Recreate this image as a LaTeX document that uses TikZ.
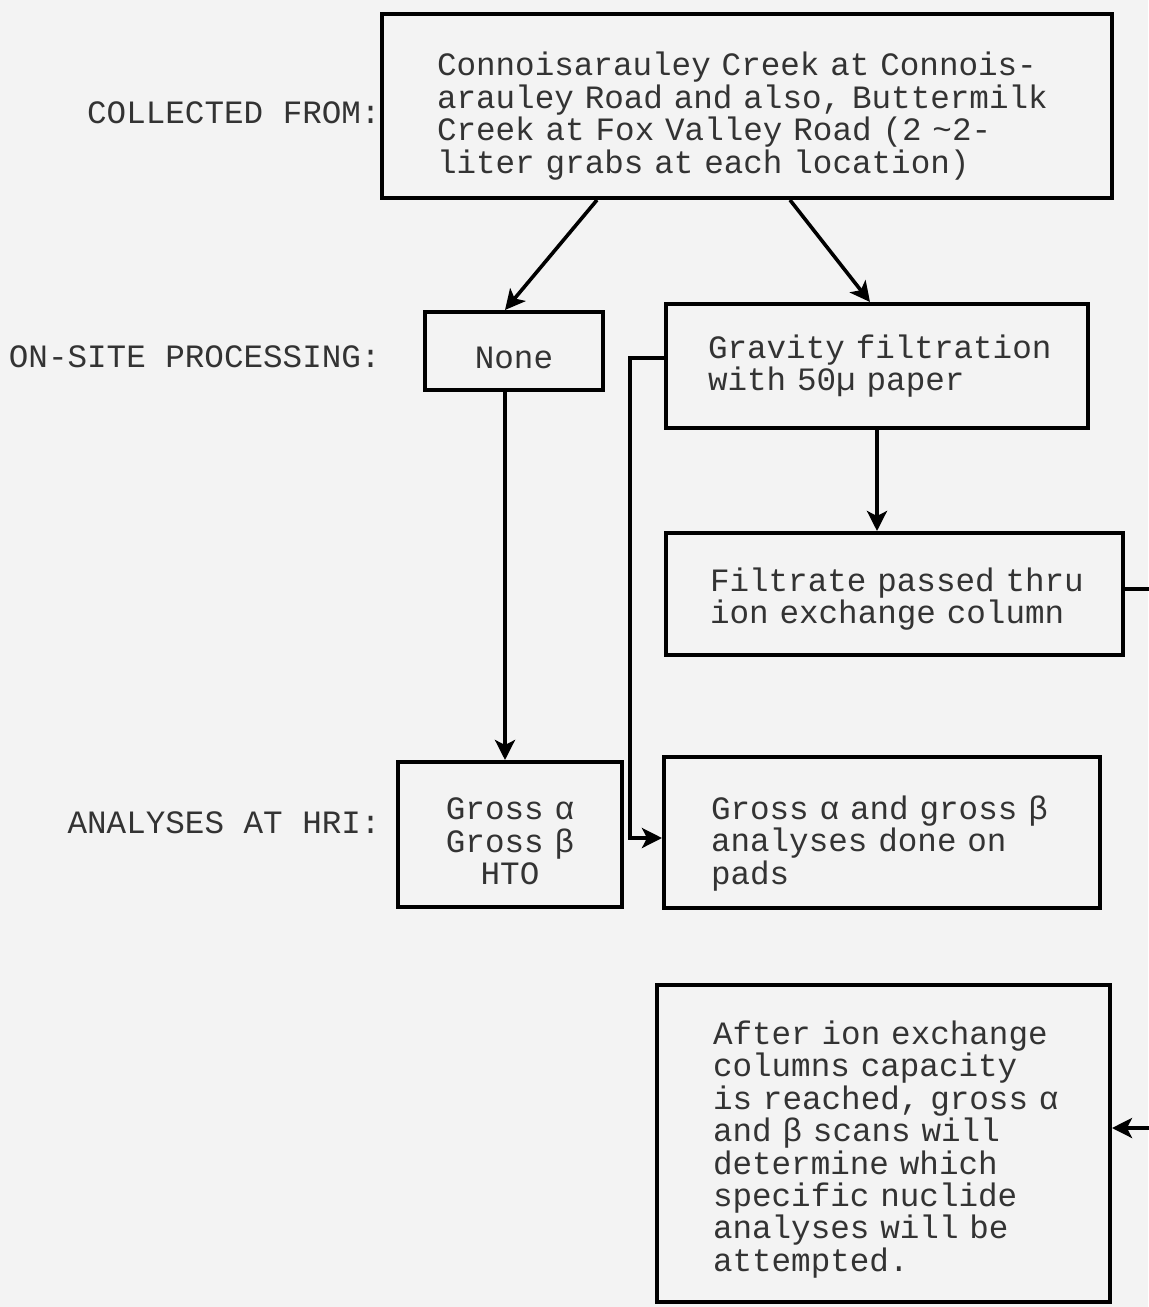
\documentclass[tikz,border=0pt]{standalone}
\usepackage{fontspec}
\setmonofont{Liberation Mono}
\usetikzlibrary{arrows.meta}
\usetikzlibrary{calc}
\tikzset{>={Stealth[length=10pt, width=10pt, inset=2.5pt]}}
\definecolor{paperGray}{HTML}{F3F3F3}
\definecolor{inkGray}{HTML}{333333}
\newcommand{\boxline}[1]{\makebox[\linewidth][l]{#1}}

\begin{document}
\begin{tikzpicture}[x=0.5pt, y=-0.5pt,
    every node/.style={font=\ttfamily\fontsize{16.3}{16.2}\selectfont, text=inkGray},
    stepbox/.style={draw=black, line width=2pt, inner ysep=0pt},
    textdown/.style={execute at begin node={\rule{0pt}{\dimexpr\fontcharht\font`l+#1\relax}}},
    sidelabel/.style={anchor=east, inner sep=0pt},
    flow/.style={->, line width=1.8pt, black}]
    \useasboundingbox (0,0) rectangle (1148,1307);
    \fill[paperGray] (0,0) rectangle (1148,1307);

    % boxes
    \node[stepbox, text width=310pt, inner xsep=27.5pt, minimum height=92pt, align=left, textdown=10pt] (src) at (747,106)
      {\boxline{Connoisarauley Creek at Connois-}\\
       \boxline{arauley Road and also, Buttermilk}\\
       \boxline{Creek at Fox Valley Road (2 \textasciitilde2-}\\
       \boxline{liter grabs at each location)}};
    \node[stepbox, text width=89pt, inner xsep=0pt, minimum height=39pt, align=center, textdown=6pt] (none) at (514,351) {None};
    \node[stepbox, text width=169pt, inner xsep=21pt, minimum height=62pt, align=left] (grav) at (877,366)
      {\boxline{Gravity filtration}\\
       \boxline{with 50µ paper}};
    \node[stepbox, text width=184.5pt, inner xsep=22pt, minimum height=61pt, align=left, textdown=5pt] (filt) at (894.5,594)
      {\boxline{Filtrate passed thru}\\
       \boxline{ion exchange column}};
    \node[stepbox, text width=112pt, inner xsep=0pt, minimum height=72.5pt, align=center, textdown=6pt] (hri) at (510,834.5)
      {Gross α\\Gross β\\HTO};
    \node[stepbox, text width=171pt, inner xsep=23.5pt, minimum height=75.5pt, align=left, textdown=11pt] (pads) at (882,832.5)
      {\boxline{Gross α and gross β}\\
       \boxline{analyses done on}\\
       \boxline{pads}};
    \node[stepbox, text width=170.5pt, inner xsep=28pt, minimum height=158.5pt, align=left, textdown=6pt] (after) at (883.5,1143.5)
      {\boxline{After ion exchange}\\
       \boxline{columns capacity}\\
       \boxline{is reached, gross α}\\
       \boxline{and β scans will}\\
       \boxline{determine which}\\
       \boxline{specific nuclide}\\
       \boxline{analyses will be}\\
       \boxline{attempted.}};

    % row labels
    \node[sidelabel] (collected) at (381,113) {COLLECTED FROM:};
    \node[sidelabel] (onsite) at (381,357) {ON-SITE PROCESSING:};
    \node[sidelabel] (analyses) at (381,823) {ANALYSES AT HRI:};

    % connectors
    \draw[flow] ([xshift=-75pt]src.south) -- ([xshift=-4.5pt]none.north);
    \draw[flow] ([xshift=21.5pt]src.south) -- ([xshift=-3.5pt]grav.north);
    \draw[flow] ([xshift=-4.5pt]none.south) -- ([xshift=-4.5pt]none.south |- hri.north);
    \draw[flow] (grav.south) -- (grav.south |- filt.north);
    \draw[flow] ([yshift=4pt]grav.west) -- ++(-34,0) |- ([yshift=-2.75pt]pads.west);
    \draw[flow] ([yshift=2.5pt]filt.east) -- ++(34,0) |- ([yshift=7.75pt]after.east);
\end{tikzpicture}
\end{document}
